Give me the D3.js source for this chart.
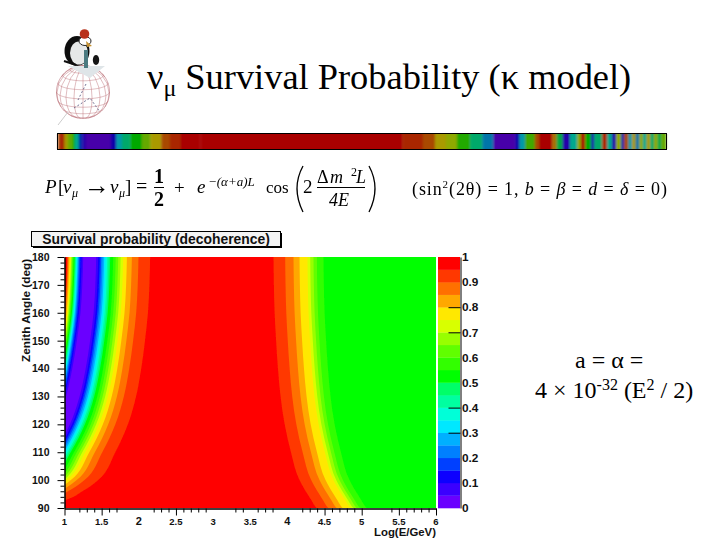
<!DOCTYPE html>
<html>
<head>
<meta charset="utf-8">
<title>Survival Probability</title>
<style>
body { margin: 0; background: #fff; }
svg { display: block; }
.serif { font-family: "Liberation Serif", serif; fill: #000; }
.root { font-family: "Liberation Sans", sans-serif; font-weight: bold; fill: #111; }
.axis path, .axis line { stroke: #000; }
.axis text { font-family: "Liberation Sans", sans-serif; font-weight: bold; font-size: 10.5px; fill: #111; }
</style>
</head>
<body>
<svg width="720" height="540"></svg>
<script src="https://cdn.jsdelivr.net/npm/d3@7"></script>
<script>
// 20 colour levels of the palette, bottom to top of the colour bar
var levelColors = ["#6a00ff", "#3a00ff", "#0a00ff", "#0040ff", "#0080ff", "#00b0ff", "#00e8ff", "#00ffd8",
                   "#00ffa0", "#00ff68", "#00ff00", "#30ff00", "#60ff00", "#98ff00", "#d8ff00", "#ffe800",
                   "#ffa800", "#ff7000", "#ff3800", "#ff0000"];

// contour shape: how far every contour moves (in log E) at each zenith angle, relative to 180 deg
var zenithRows = [180, 170, 160, 150, 140, 130, 120, 110, 100, 97.5, 95.7, 94, 92.8, 91, 90];
var leftShift  = [0, -0.01, -0.03, -0.07, -0.12, -0.19, -0.30, -0.47, -0.70, -0.82, -0.93, -1.03, -1.15, -1.4, -1.5];
var rightShift = [0, 0.005, 0.015, 0.035, 0.06, 0.095, 0.15, 0.235, 0.35, 0.40, 0.44, 0.48, 0.51, 0.55, 0.58];

// log E where each band begins at 180 deg, and its level
var leftEdges = [1.036, 1.044, 1.054, 1.067, 1.081, 1.09, 1.101, 1.112, 1.124, 1.137, 1.147, 1.157, 1.166, 1.176,
                 1.187, 1.198, 1.214, 1.231, 1.252, 1.427, 1.454, 1.474, 1.494, 1.514, 1.534, 1.554, 1.575, 1.595,
                 1.615, 1.655, 1.689, 1.723, 1.756, 1.79, 1.84, 1.907, 1.996, 2.153];
var leftLevels = [18, 17, 16, 15, 14, 13, 12, 11, 10, 9, 8, 7, 6, 5, 4, 3, 2, 1, 0, 1, 2, 3, 4, 5, 6, 7, 8, 9,
                  10, 11, 12, 13, 14, 15, 16, 17, 18, 19];
var rightEdges = [3.813, 3.97, 4.082, 4.163, 4.27, 4.307, 4.351, 4.397, 4.486];
var rightLevels = [18, 17, 16, 15, 14, 13, 12, 11, 10];

// axes
var zenithMajor = [90, 100, 110, 120, 130, 140, 150, 160, 170, 180];
var zenithMinor = [92, 94, 96, 98, 102, 104, 106, 108, 112, 114, 116, 118, 122, 124, 126, 128, 132, 134, 136, 138,
                   142, 144, 146, 148, 152, 154, 156, 158, 162, 164, 166, 168, 172, 174, 176, 178];
var energyMajor = [1, 1.5, 2.5, 4.5, 5, 5.5, 6];
var energyMinor = [1.2, 1.3, 1.4, 1.6, 1.7, 2.2, 2.3, 2.4, 2.6, 2.7, 2.8, 2.9, 3.3, 3.4, 3.6, 3.7, 3.8,
                   4.2, 4.3, 4.4, 4.6, 4.7, 4.8, 4.9, 5.4, 5.6, 5.7, 5.8, 5.9];
var energyLabels = ["1", "1.5", "2", "2.5", "3", "3.5", "4", "4.5", "5", "5.5", "6"];
var barLabels = ["0", "0.1", "0.2", "0.3", "0.4", "0.5", "0.6", "0.7", "0.8", "0.9", "1"];
var barTicks = [0.3, 0.4, 0.7, 0.8];

// the dark strip under the title: edges along the strip (percent) and the level of each piece
var stripEdges = [0, 0.4, 0.8, 1.1, 1.6, 2.4, 2.8, 3.4, 4.0, 4.6, 8.7, 9.6, 10.5, 11.9, 13.8, 15.2, 17.0, 18.4, 20.2, 23.4,
                  56.6, 60.0, 62.0, 63.8, 65.6, 67.8, 69.8, 71.6, 75.2, 75.9, 76.8, 78.4, 79.1, 81.3, 82.0, 83.0, 84.2,
                  85.4, 86.0, 86.7, 87.7, 88.2, 89.5, 90.3, 91.1, 91.8, 92.6, 93.1, 93.8, 94.4, 95.0, 95.6, 96.2, 96.8,
                  97.4, 98.0, 98.6, 99.2, 100];
var stripLevels = [17, 19, 17, 15, 13, 10, 7, 3, 1, 0, 2, 6, 8, 10, 13, 15, 17, 18, 19, 19,
                   18, 17, 15, 14, 11, 8, 5, 0, 2, 6, 12, 17, 19, 16, 9, 1, 7, 14, 19, 10, 2, 8, 18, 7, 1, 14,
                   3, 17, 6, 15, 5, 14, 7, 15, 8, 14, 9, 13, 11];

var svg = d3.select("svg");

var defs = svg.append("defs");
defs.append("filter").attr("id", "soft").append("feGaussianBlur").attr("stdDeviation", 0.45);
defs.append("filter").attr("id", "stripBlur").append("feGaussianBlur").attr("stdDeviation", "0.9 0.3");
defs.append("clipPath").attr("id", "plotClip").append("rect")
    .attr("x", 65).attr("y", 257).attr("width", 371).attr("height", 251);

// scales
var x = d3.scaleLinear().domain([1, 6]).range([64.5, 436]);
var y = d3.scaleLinear().domain([90, 180]).range([508, 257]);
var barY = d3.scaleLinear().domain([0, 1]).range([508, 257]);
var stripX = d3.scaleLinear().domain([0, 100]).range([58, 666]);

// ---- title
var title = svg.append("text").attr("class", "serif").attr("x", 147).attr("y", 89).attr("font-size", 36.4);
title.append("tspan").text("\u03bd");
title.append("tspan").attr("dy", 7).attr("font-size", 24).text("\u03bc");
title.append("tspan").attr("dy", -7).attr("dx", 9).text("Survival Probability (\u03ba model)");

// ---- logo: globe
var globe = svg.append("g").attr("filter", "url(#soft)");
var projection = d3.geoOrthographic().scale(26.5).translate([83, 92]).rotate([20, -15]);
var geoPath = d3.geoPath(projection);
globe.append("path").datum(d3.geoGraticule().step([20, 20])())
    .attr("d", geoPath).attr("fill", "none").attr("stroke", "#c07a80").attr("stroke-width", 0.5);
globe.append("path").datum({type: "Sphere"})
    .attr("d", geoPath).attr("fill", "none").attr("stroke", "#b5666e").attr("stroke-width", 0.6);
globe.append("path").attr("d", "M74 108L90 98L100 112M86 84L78 100").attr("fill", "none")
    .attr("stroke", "#50507a").attr("stroke-width", 0.8).attr("stroke-dasharray", "2 2");
globe.append("path").attr("d", "M68 112L58 125").attr("stroke", "#ccc").attr("fill", "none");

// logo: penguin
var logo = svg.append("g").attr("filter", "url(#soft)");
logo.append("path").attr("d", "M68 66L105 66L90 78Z").attr("fill", "#dfe5e8");
logo.append("ellipse").attr("cx", 77).attr("cy", 51).attr("rx", 12.5).attr("ry", 15).attr("fill", "#111");
logo.append("ellipse").attr("cx", 79).attr("cy", 53).attr("rx", 9).attr("ry", 11.5).attr("fill", "#e6e8e8");
logo.append("ellipse").attr("cx", 85).attr("cy", 41).attr("rx", 6).attr("ry", 4.5).attr("fill", "#fff").attr("stroke", "#222").attr("stroke-width", 1);
logo.append("path").attr("d", "M86 41L92 46L87 47Z").attr("fill", "#c59030");
logo.append("circle").attr("cx", 84.5).attr("cy", 34).attr("r", 4.8).attr("fill", "#b8321e");
logo.append("rect").attr("x", 84).attr("y", 50).attr("width", 4).attr("height", 18).attr("fill", "#4b7a80");
logo.append("ellipse").attr("cx", 96).attr("cy", 60).attr("rx", 3.2).attr("ry", 5).attr("fill", "#151515");
logo.append("path").attr("d", "M64 61L76 65").attr("stroke", "#111").attr("stroke-width", 2);

// ---- strip
var strip = svg.append("g");
strip.append("g").attr("filter", "url(#stripBlur)").selectAll("rect")
    .data(stripLevels)
  .enter().append("rect")
    .attr("x", function(d, i) { return stripX(stripEdges[i]); })
    .attr("width", function(d, i) { return stripX(stripEdges[i + 1]) - stripX(stripEdges[i]) + 0.3; })
    .attr("y", 134).attr("height", 15)
    .attr("fill", function(d) { return d3.rgb(levelColors[d]).darker(1.15); });
strip.append("rect").attr("x", 57.5).attr("y", 133.5).attr("width", 609).attr("height", 16)
    .attr("fill", "none").attr("stroke", "#000");

// ---- formula
var formula = svg.append("g").attr("class", "serif").attr("filter", "url(#soft)");
function put(px, py, size, str, style) {
  return formula.append("text").attr("x", px).attr("y", py).attr("font-size", size)
      .attr("font-style", style || "normal").text(str);
}
put(45, 193, 19, "P", "italic");
put(58, 193, 19, "[");
put(63, 193, 19, "\u03bd", "italic");
put(72, 197, 12, "\u03bc", "italic");
put(84, 194, 26, "\u2192");
put(110, 193, 19, "\u03bd", "italic");
put(119, 197, 12, "\u03bc", "italic");
put(125, 193, 19, "]");
put(136, 193, 20, "=");
put(154, 183, 20, "1").attr("font-weight", "bold");
put(154, 206, 20, "2").attr("font-weight", "bold");
formula.append("rect").attr("x", 154).attr("y", 187).attr("width", 10).attr("height", 1).attr("fill", "#000");
put(174, 194, 19, "+");
put(197, 193, 19, "e", "italic");
put(208, 186, 13, "\u2212(\u03b1+a)L", "italic");
put(266, 193, 17, "cos");
put(303, 193, 19, "2");
put(317, 183, 18, "\u0394");
put(330, 183, 18, "m", "italic");
put(351, 176, 12, "2");
put(356, 183, 18, "L", "italic");
put(329, 206, 18, "4E", "italic");
formula.append("rect").attr("x", 317).attr("y", 187).attr("width", 48).attr("height", 1).attr("fill", "#000");
formula.append("path").attr("d", "M303 166Q291 188 303 212").attr("fill", "none").attr("stroke", "#000").attr("stroke-width", 1.3);
formula.append("path").attr("d", "M369 166Q381 188 369 212").attr("fill", "none").attr("stroke", "#000").attr("stroke-width", 1.3);
var cond = put(412, 195, 18, "(sin").attr("textLength", 255).attr("lengthAdjust", "spacing");
cond.append("tspan").attr("dy", -7).attr("font-size", 11).text("2");
cond.append("tspan").attr("dy", 7).text("(2\u03b8) = 1,  ");
cond.append("tspan").attr("font-style", "italic").text("b");
cond.append("tspan").text(" = ");
cond.append("tspan").attr("font-style", "italic").text("\u03b2");
cond.append("tspan").text(" = ");
cond.append("tspan").attr("font-style", "italic").text("d");
cond.append("tspan").text(" = ");
cond.append("tspan").attr("font-style", "italic").text("\u03b4");
cond.append("tspan").text(" = 0)");

// ---- histogram title box
svg.append("rect").attr("x", 33).attr("y", 233).attr("width", 249).attr("height", 15).attr("fill", "#000");
svg.append("rect").attr("x", 31.5).attr("y", 231.5).attr("width", 249).attr("height", 15)
    .attr("fill", "#f4f4f4").attr("stroke", "#000");
svg.append("text").attr("class", "root").attr("x", 156).attr("y", 243.6).attr("text-anchor", "middle")
    .attr("font-size", 13.9).text("Survival probability (decoherence)");

// ---- contour bands, painted left to right, each one running to the right edge
var plot = svg.append("g").attr("clip-path", "url(#plotClip)").append("g").attr("filter", "url(#soft)");
plot.append("rect").attr("x", x(1)).attr("y", y(180)).attr("width", x(6) - x(1)).attr("height", y(90) - y(180))
    .attr("fill", levelColors[19]);

// the lower the energy of a left contour, the slightly faster it moves
function leftX(edge) {
  return function(z, i) { return x(edge + leftShift[i] * (1 + 0.25 * (2.15 - edge))); };
}
function rightX(edge) {
  return function(z, i) { return x(edge + rightShift[i]); };
}
function band(x0) {
  return d3.area()
      .curve(d3.curveMonotoneY)
      .y(function(z) { return y(z); })
      .x0(x0)
      .x1(x(6) + 5)(zenithRows);
}
plot.selectAll("path.left")
    .data(leftEdges)
  .enter().append("path")
    .attr("class", "left")
    .attr("d", function(d) { return band(leftX(d)); })
    .attr("fill", function(d, i) { return levelColors[leftLevels[i]]; });
plot.selectAll("path.right")
    .data(rightEdges)
  .enter().append("path")
    .attr("class", "right")
    .attr("d", function(d) { return band(rightX(d)); })
    .attr("fill", function(d, i) { return levelColors[rightLevels[i]]; });

// ---- axes
svg.append("g").attr("class", "axis").attr("transform", "translate(64.5,0)")
    .call(d3.axisLeft(y).tickValues(zenithMinor).tickSize(4).tickFormat("").tickSizeOuter(0));
svg.append("g").attr("class", "axis").attr("transform", "translate(64.5,0)")
    .call(d3.axisLeft(y).tickValues(zenithMajor).tickSize(7).tickPadding(8).tickSizeOuter(0));

svg.append("g").attr("class", "axis").attr("transform", "translate(0,508.5)")
    .call(d3.axisBottom(x).tickValues(energyMinor).tickSize(4).tickFormat("").tickSizeOuter(0));
svg.append("g").attr("class", "axis").attr("transform", "translate(0,508.5)")
    .call(d3.axisBottom(x).tickValues(energyMajor).tickSize(7).tickFormat("").tickSizeOuter(0));
svg.append("g").selectAll("text")
    .data(energyLabels)
  .enter().append("text")
    .attr("class", "root")
    .attr("x", function(d) { return x(+d); })
    .attr("y", 524.5)
    .attr("text-anchor", "middle")
    .attr("font-size", function(d) { return d === "2" || d === "4" ? 11 : 9.5; })
    .text(function(d) { return d; });

svg.append("text").attr("class", "root").attr("x", 436).attr("y", 535.5).attr("text-anchor", "end")
    .attr("font-size", 11.4).text("Log(E/GeV)");
svg.append("text").attr("class", "root").attr("transform", "translate(30,362) rotate(-90)")
    .attr("font-size", 11.8).text("Zenith Angle (deg)");

// ---- colour bar
var bar = svg.append("g");
bar.append("g").attr("filter", "url(#soft)").selectAll("rect")
    .data(levelColors)
  .enter().append("rect")
    .attr("x", 438).attr("width", 22)
    .attr("y", function(d, i) { return barY((i + 1) / levelColors.length); })
    .attr("height", function(d, i) { return barY(i / levelColors.length) - barY((i + 1) / levelColors.length) + 0.3; })
    .attr("fill", function(d) { return d; });
svg.append("g").attr("class", "axis").attr("transform", "translate(460.5,0)")
    .call(d3.axisLeft(barY).tickValues(barTicks).tickSize(12).tickFormat("").tickSizeOuter(0));
svg.append("g").selectAll("text")
    .data(barLabels)
  .enter().append("text")
    .attr("class", "root")
    .attr("x", 462)
    .attr("y", function(d) { return barY(+d); })
    .attr("dy", "0.36em")
    .attr("font-size", 11.8)
    .text(function(d) { return d; });

// ---- side note
var note = svg.append("g").attr("class", "serif").attr("font-size", 24);
note.append("text").attr("x", 575).attr("y", 368).text("a = \u03b1 =");
var noteLine = note.append("text").attr("x", 535).attr("y", 398);
noteLine.append("tspan").text("4 \u00d7 10");
noteLine.append("tspan").attr("dy", -8).attr("font-size", 16).text("-32");
noteLine.append("tspan").attr("dy", 8).text(" (E");
noteLine.append("tspan").attr("dy", -8).attr("font-size", 16).text("2");
noteLine.append("tspan").attr("dy", 8).text(" / 2)");
</script>
</body>
</html>
